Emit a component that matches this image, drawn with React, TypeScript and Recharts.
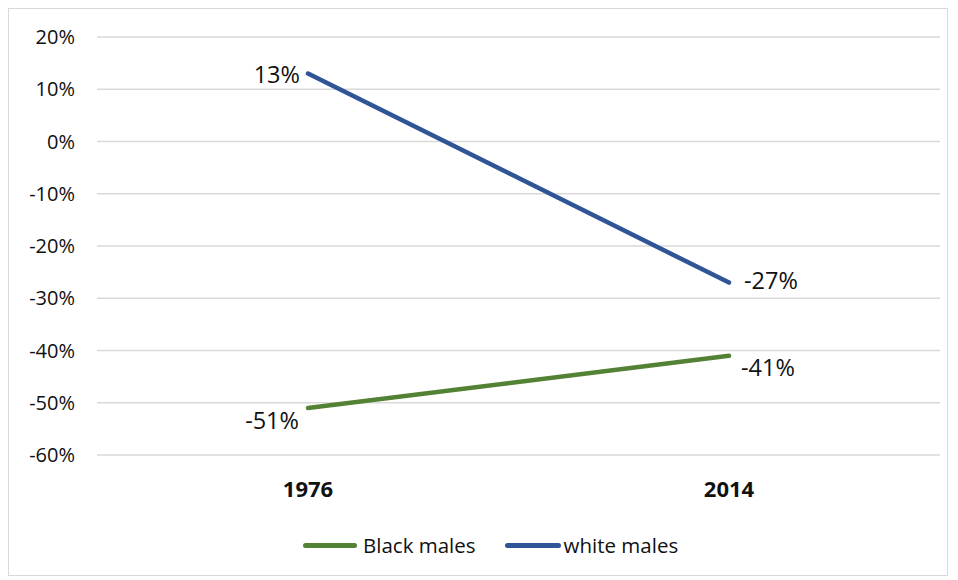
import React from "react";
import { LineChart, Line, XAxis, YAxis, CartesianGrid, Legend } from "recharts";

const years = ["1976", "2014"];
const blackMales = [-51, -41];
const whiteMales = [13, -27];
const yTicks = [-60, -50, -40, -30, -20, -10, 0, 10, 20];

const data = years.map((y, i) => ({ year: y, black: blackMales[i], white: whiteMales[i] }));

const FONT = "'Open Sans', sans-serif";
const GREEN = "#548235";
const BLUE = "#2F5597";
const LABEL_SIZE = 23.5;

const WhiteLabel = (props: any) => {
  const { x, y, value, index } = props;
  if (index === 0)
    return (
      <text x={x - 8} y={y} textAnchor="end" dominantBaseline="central" fontSize={LABEL_SIZE} fontFamily={FONT} fill="#111">
        {value}%
      </text>
    );
  return (
    <text x={x + 15} y={y - 3} textAnchor="start" dominantBaseline="central" fontSize={LABEL_SIZE} fontFamily={FONT} fill="#111">
      {value}%
    </text>
  );
};

const BlackLabel = (props: any) => {
  const { x, y, value, index } = props;
  if (index === 0)
    return (
      <text x={x - 9} y={y + 12} textAnchor="end" dominantBaseline="central" fontSize={LABEL_SIZE} fontFamily={FONT} fill="#111">
        {value}%
      </text>
    );
  return (
    <text x={x + 12} y={y + 11} textAnchor="start" dominantBaseline="central" fontSize={LABEL_SIZE} fontFamily={FONT} fill="#111">
      {value}%
    </text>
  );
};

const LegendContent = () => (
  <div
    style={{
      height: 60,
      display: "flex",
      alignItems: "center",
      paddingLeft: 294,
      fontFamily: FONT,
      fontSize: 20.5,
      color: "#111",
    }}
  >
    <div style={{ width: 54, height: 5, borderRadius: 3, background: GREEN }} />
    <span style={{ marginLeft: 6 }}>Black males</span>
    <div style={{ width: 56, height: 5, borderRadius: 3, background: BLUE, marginLeft: 29 }} />
    <span style={{ marginLeft: 3 }}>white males</span>
  </div>
);

export default function App() {
  return (
    <div
      style={{
        width: 940,
        height: 568,
        border: "1px solid #d9d9d9",
        boxSizing: "border-box",
        background: "#fff",
      }}
    >
      <LineChart width={938} height={566} data={data} margin={{ top: 28, right: 7, left: 0, bottom: 0 }}>
        <CartesianGrid vertical={false} stroke="#d9d9d9" strokeWidth={1.3} />
        <XAxis
          dataKey="year"
          axisLine={false}
          tickLine={false}
          tickSize={0}
          tickMargin={26}
          height={60}
          padding={{ left: 211, right: 211 }}
          tick={{ fontSize: 22, fontWeight: 700, fontFamily: FONT, fill: "#111" }}
        />
        <YAxis
          domain={[-60, 20]}
          ticks={yTicks}
          interval={0}
          axisLine={false}
          tickLine={false}
          tickSize={0}
          tickMargin={22}
          width={88}
          tickFormatter={(v: number) => `${v}%`}
          tick={{ fontSize: 20, fontFamily: FONT, fill: "#111" }}
        />
        <Legend verticalAlign="bottom" content={<LegendContent />} />
        <Line
          dataKey="white"
          name="white males"
          stroke={BLUE}
          strokeWidth={4.5}
          strokeLinecap="round"
          dot={false}
          isAnimationActive={false}
          label={<WhiteLabel />}
        />
        <Line
          dataKey="black"
          name="Black males"
          stroke={GREEN}
          strokeWidth={4.5}
          strokeLinecap="round"
          dot={false}
          isAnimationActive={false}
          label={<BlackLabel />}
        />
      </LineChart>
    </div>
  );
}
